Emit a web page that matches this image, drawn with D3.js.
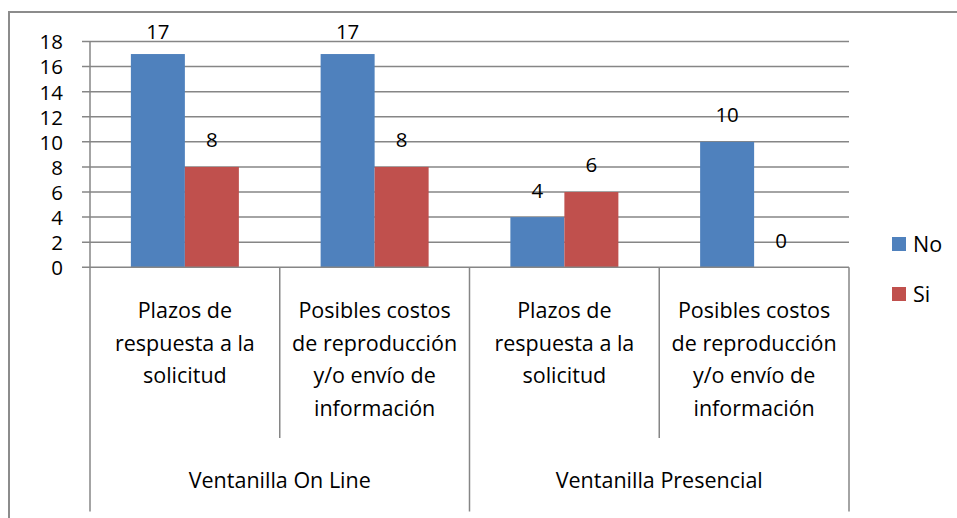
<!DOCTYPE html>
<html>
<head>
<meta charset="utf-8">
<script src="https://cdn.jsdelivr.net/npm/d3@7"></script>
<style>
  body { margin: 0; background: #fff; }
  text { font-family: "Open Sans", Lato, sans-serif; fill: #000; }
</style>
</head>
<body>
<div id="container"></div>
<script>
// data
var groups = ["Ventanilla On Line", "Ventanilla Presencial"];
var categories = [
	["Plazos de", "respuesta a la", "solicitud"],
	["Posibles costos", "de reproducción", "y/o envío de", "información"],
	["Plazos de", "respuesta a la", "solicitud"],
	["Posibles costos", "de reproducción", "y/o envío de", "información"]
];
var catGroup = [0, 0, 1, 1];
var series = ["No", "Si"];
var noValues = [17, 17, 4, 10];
var siValues = [8, 8, 6, 0];
var yTicks = [0, 2, 4, 6, 8, 10, 12, 14, 16, 18];

var colors = {No: "#4F81BD", Si: "#C0504D"};
var gridColor = "#868686";
var fontSize = "21.5px";
var numSize = "20.5px";

var width = 957, height = 518;
var plot = {left: 90, right: 849, top: 41.5, bottom: 267.3};

var svg = d3.select("#container").append("svg")
	.attr("width", width)
	.attr("height", height);

// outer chart border (only left and top are visible)
svg.append("path")
	.attr("d", "M9," + height + "V12H" + width)
	.attr("fill", "none")
	.attr("stroke", "#8c8c8c")
	.attr("stroke-width", 2);

var x = d3.scaleBand().domain(d3.range(categories.length)).range([plot.left, plot.right]);
var y = d3.scaleLinear().domain([0, 18]).range([plot.bottom, plot.top]);
var barW = 54;
var xs = d3.scaleBand().domain(series).range([x.bandwidth()/2 - barW, x.bandwidth()/2 + barW]);

// gridlines
svg.append("g").selectAll("line").data(yTicks.filter(function(d){ return d > 0; })).enter()
	.append("line")
	.attr("x1", plot.left - 8).attr("x2", plot.right)
	.attr("y1", function(d){ return y(d); }).attr("y2", function(d){ return y(d); })
	.attr("stroke", gridColor).attr("stroke-width", 1.5);

// y axis
var yAxis = d3.axisLeft(y).tickValues(yTicks).tickSize(0).tickPadding(27);
var yg = svg.append("g").attr("transform", "translate(" + plot.left + ",0)").call(yAxis);
yg.attr("font-family", null).attr("font-size", null);
yg.select(".domain").remove();
yg.selectAll("text").style("font-size", numSize).attr("dy", "0.36em");
svg.append("line")
	.attr("x1", plot.left).attr("x2", plot.left)
	.attr("y1", plot.top).attr("y2", plot.bottom)
	.attr("stroke", gridColor).attr("stroke-width", 1.5);

// bars
var data = [];
categories.forEach(function(c, i){
	data.push({i: i, s: "No", v: noValues[i]});
	data.push({i: i, s: "Si", v: siValues[i]});
});

svg.append("g").selectAll("rect").data(data).enter()
	.append("rect")
	.attr("x", function(d){ return x(d.i) + xs(d.s); })
	.attr("width", xs.bandwidth())
	.attr("y", function(d){ return y(d.v); })
	.attr("height", function(d){ return y(0) - y(d.v); })
	.attr("fill", function(d){ return colors[d.s]; });

// data labels
svg.append("g").selectAll("text").data(data).enter()
	.append("text")
	.attr("x", function(d){ return x(d.i) + xs(d.s) + xs.bandwidth()/2; })
	.attr("y", function(d){ return Math.max(y(d.v) - 27, 32); })
	.attr("dy", "0.36em")
	.attr("text-anchor", "middle")
	.style("font-size", numSize)
	.text(function(d){ return d.v; });

// category axis baseline
svg.append("line")
	.attr("x1", plot.left - 8).attr("x2", plot.right)
	.attr("y1", plot.bottom).attr("y2", plot.bottom)
	.attr("stroke", gridColor).attr("stroke-width", 1.5);

// dividers: group edges go to the bottom, inner ones stop above the group row
var axisBottom = 511.5, innerBottom = 438;
d3.range(categories.length + 1).forEach(function(i){
	var xp = i < categories.length ? x(i) : plot.right;
	var full = (i === 0 || i === categories.length || catGroup[i] !== catGroup[i-1]);
	svg.append("line")
		.attr("x1", xp).attr("x2", xp)
		.attr("y1", plot.bottom).attr("y2", full ? axisBottom : innerBottom)
		.attr("stroke", gridColor).attr("stroke-width", 1.5);
});

// category labels
categories.forEach(function(lines, i){
	var t = svg.append("text")
		.attr("text-anchor", "middle")
		.style("font-size", fontSize);
	lines.forEach(function(l, k){
		t.append("tspan")
			.attr("x", x(i) + x.bandwidth()/2)
			.attr("y", 318 + k*32.5)
			.text(l);
	});
});

// group labels
groups.forEach(function(g, gi){
	var idx = catGroup.map(function(c, i){ return c === gi ? i : -1; }).filter(function(i){ return i >= 0; });
	var x0 = x(idx[0]), x1 = x(idx[idx.length-1]) + x.bandwidth();
	svg.append("text")
		.attr("x", (x0 + x1)/2)
		.attr("y", 488)
		.attr("text-anchor", "middle")
		.style("font-size", fontSize)
		.text(g);
});

// legend
var legend = svg.append("g").attr("transform", "translate(892,237)");
series.forEach(function(s, i){
	var row = legend.append("g").attr("transform", "translate(0," + (i*50) + ")");
	row.append("rect").attr("width", 14).attr("height", 14).attr("fill", colors[s]);
	row.append("text").attr("x", 21).attr("y", 7).attr("dy", "0.36em")
		.style("font-size", fontSize).text(s);
});
</script>
</body>
</html>
